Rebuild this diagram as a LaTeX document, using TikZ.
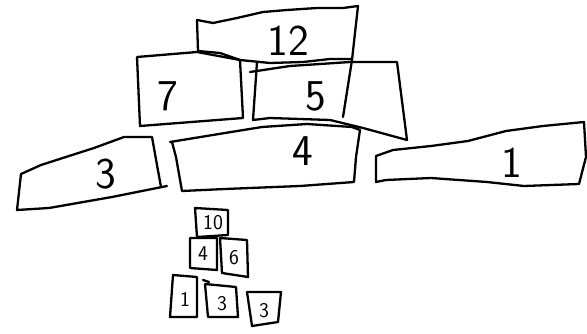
\documentclass[tikz,border=0pt]{standalone}
\usepackage{tikz}

\begin{document}
\begin{tikzpicture}[x=1pt, y=-1pt,
  sketch/.style={line width=2.3pt, line join=round, line cap=round},
  bignum/.style={font=\fontsize{44}{44}\selectfont\sffamily, inner sep=0pt},
  smallnum/.style={font=\fontsize{21}{21}\selectfont\sffamily, inner sep=0pt}
]
  \useasboundingbox[fill=white] (0,0) rectangle (587,334);

  % Top block (12), its right side runs down into block 5
  \draw[sketch] (197,20) -- (213,23) -- (237,18) -- (263,12) -- (287,10) -- (317,8)
    -- (343,8) -- (358,6) -- (352,60) -- (343,117);
  \draw[sketch] (197,20) -- (198,51) -- (220,53) -- (240,60) -- (270,63) -- (303,62)
    -- (330,59) -- (352,59);
  \node[bignum] (n12) at (288,41) {12};

  % Second row: 7 and 5
  \draw[sketch] (137,57) -- (197,52) -- (240,60) -- (243,118) -- (140,126) -- cycle;
  \node[bignum] (n7) at (168,96) {7};
  \draw[sketch] (250,72) -- (290,66) -- (350,62) -- (397,62) -- (407,140)
    -- (363,128) -- (330,120) -- (270,118) -- (253,120) -- (257,62);
  \node[bignum] (n5) at (316,96) {5};

  % Bottom row: 3, 4, 1
  \draw[sketch] (21,174) -- (41,165) -- (94,148) -- (124,137) -- (152,137)
    -- (157,165) -- (161,187);
  \draw[sketch] (167,186) -- (112,197) -- (49,208) -- (17,210) -- (21,174);
  \node[bignum] (n3) at (106,174) {3};
  \draw[sketch] (170,142) -- (225,133) -- (262,127) -- (307,124) -- (352,127) -- (360,130)
    -- (356,157) -- (354,182) -- (300,186) -- (225,189) -- (182,191) -- (176,157) -- (172,142);
  \node[bignum] (n4) at (303,151) {4};
  \draw[sketch] (376,156) -- (393,150) -- (431,146) -- (468,141) -- (506,131) -- (543,126)
    -- (584,122) -- (586,157) -- (579,184) -- (524,186) -- (487,182) -- (431,178)
    -- (386,180) -- (376,182) -- cycle;
  \node[bignum] (n1) at (512,163) {1};

  % Small pyramid
  \draw[sketch] (195,208) -- (228,210) -- (228,235) -- (197,237) -- cycle;
  \node[smallnum] (s10) at (213,223) {10};
  \draw[sketch] (190,238) -- (217,238) -- (217,270) -- (190,268) -- cycle;
  \node[smallnum] (s4) at (203,254) {4};
  \draw[sketch] (220,238) -- (247,240) -- (248,277) -- (222,273) -- cycle;
  \node[smallnum] (s6) at (234,258) {6};
  \draw[sketch] (173,275) -- (197,277) -- (197,317) -- (170,317) -- cycle;
  \node[smallnum] (s1) at (185,299) {1};
  \draw[sketch] (205,284) -- (236,287) -- (238,317) -- (208,317) -- (205,284);
  \draw[sketch] (203,280) -- (209,282);
  \node[smallnum] (s3a) at (222,304) {3};
  \draw[sketch] (247,292) -- (281,292) -- (278,322) -- (252,326) -- (247,292);
  \node[smallnum] (s3b) at (264,311) {3};
\end{tikzpicture}
\end{document}
